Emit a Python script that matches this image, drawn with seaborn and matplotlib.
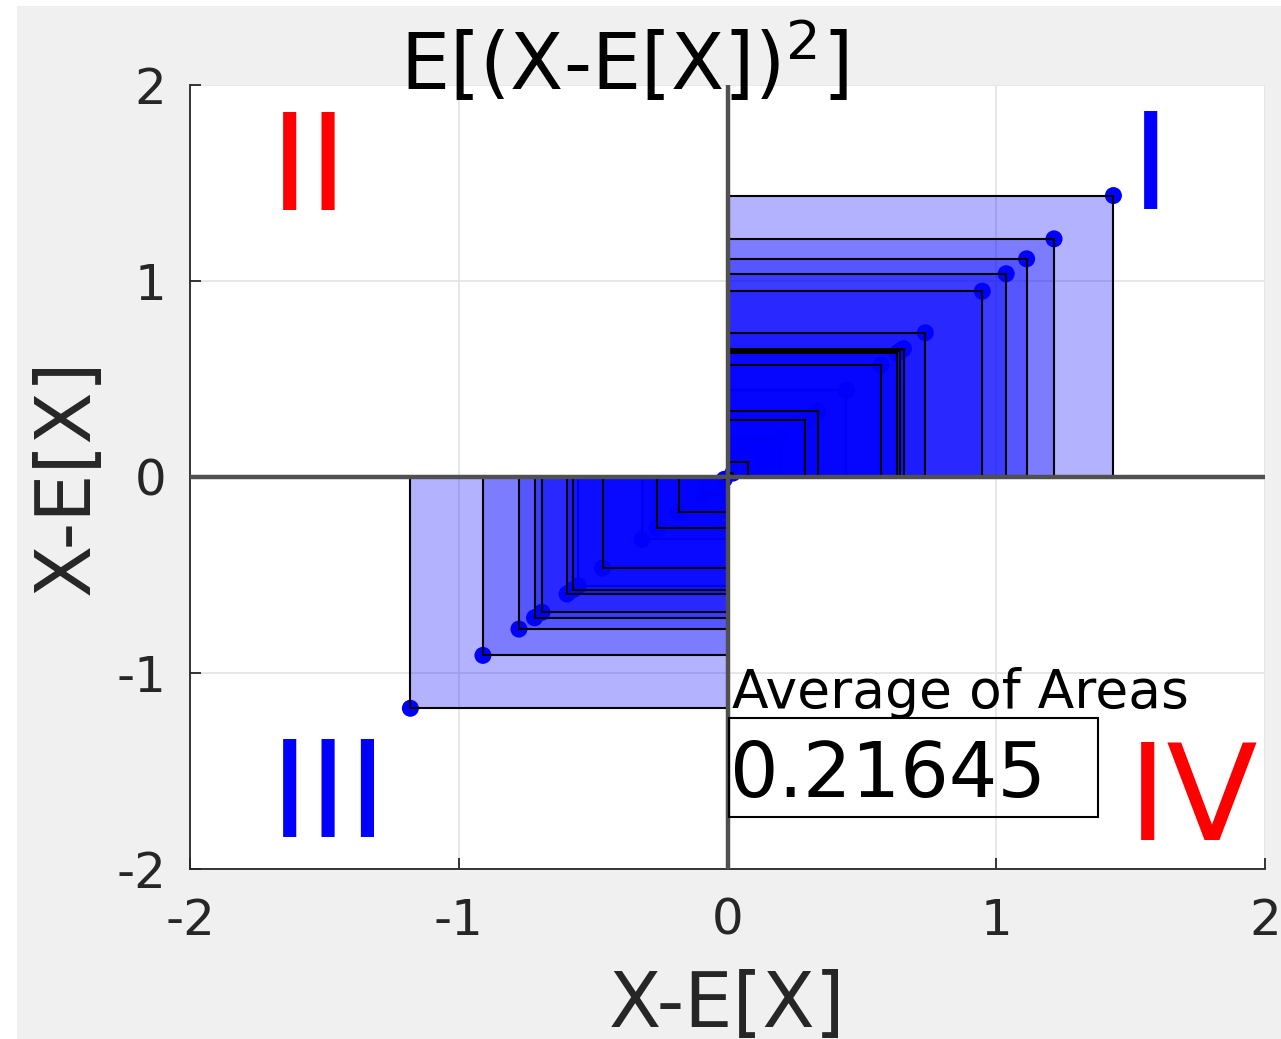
import matplotlib
matplotlib.use("Agg")
import matplotlib.pyplot as plt
from matplotlib.patches import Rectangle
import seaborn as sns
import pandas as pd

# Deviations from the mean (X - E[X]) in the order they are drawn
deviations = [
    0.442, 0.200, 0.118, -0.090, -0.318, -0.555,
    1.436, -1.180, 1.215, 1.113, 1.037, 0.948, -0.910, -0.776,
    0.736, -0.718, -0.690, 0.655, 0.643, 0.632, -0.597, -0.575,
    0.570, -0.465, 0.335, 0.290, -0.262, -0.181, 0.076, 0.020, -0.012,
]
average_of_areas = "0.21645"

tick_values = [-2, -1, 0, 1, 2]
tick_labels = ["-2", "-1", "0", "1", "2"]

quadrant_names = ["I", "II", "III", "IV"]
quadrant_colors = ["#0000ff", "#ff0000", "#0000ff", "#ff0000"]
quadrant_anchors = [(1.50, 1.367), (-1.704, 1.362), (-1.704, -1.837), (1.488, -1.852)]

sns.set_theme(style="white")
plt.rcParams["font.family"] = ["DejaVu Sans"]
plt.rcParams["mathtext.fontset"] = "dejavusans"

W, H = 1281, 1039
fig = plt.figure(figsize=(W / 100, H / 100), dpi=100, facecolor="white")
fig.patches.append(Rectangle((17 / W, 0), 1 - 17 / W, 1 - 6 / H,
                             transform=fig.transFigure, facecolor="#f0f0f0",
                             edgecolor="none", zorder=-10))

ax = fig.add_axes([190 / W, 1 - 869 / H, (1265 - 190) / W, (869 - 85) / H])
ax.set_facecolor("white")
ax.set_xlim(-2, 2)
ax.set_ylim(-2, 2)

# Sample points (x - E[x], x - E[x]) sit under the translucent squares
df = pd.DataFrame({"dx": deviations, "dy": deviations})
sns.scatterplot(data=df, x="dx", y="dy", ax=ax, color="#0000ff", s=150,
                edgecolor="none", linewidth=0, zorder=1.5, legend=False)

# Square of each deviation: area (x - E[x])^2
for d in deviations:
    ax.add_patch(Rectangle((0, 0), d, d, facecolor=(0, 0, 1, 0.3),
                           edgecolor="black", linewidth=1.5, zorder=2))

# Coordinate axes through the mean
ax.axhline(0, color="#505050", lw=3.2, zorder=3)
ax.axvline(0, color="#505050", lw=3.2, zorder=3)

ax.set_xticks(tick_values)
ax.set_xticklabels(tick_labels)
ax.set_yticks(tick_values)
ax.set_yticklabels(tick_labels)
ax.grid(True, color="#e3e3e3", lw=1.2)
ax.set_axisbelow(True)
for side in ["top", "right"]:
    ax.spines[side].set_visible(False)
for side in ["left", "bottom"]:
    ax.spines[side].set_color("#262626")
    ax.spines[side].set_linewidth(1.3)
ax.tick_params(axis="both", direction="in", length=8, width=1.3,
               colors="#262626", labelsize=36)
ax.tick_params(axis="x", pad=20)
ax.tick_params(axis="y", pad=17)
ax.tick_params(left=True, bottom=True)

ax.set_xlabel("X-E[X]", fontsize=55, color="#262626")
ax.set_ylabel("X-E[X]", fontsize=55, color="#262626")
ax.xaxis.set_label_coords(0.5, -0.127)
ax.yaxis.set_label_coords(-0.0795, 0.5)

fig.text(400 / W, 1 - 90 / H, r"E[(X-E[X])$^{2}$]", fontsize=56,
         color="black", ha="left", va="baseline", zorder=5)

for name, color, (qx, qy) in zip(quadrant_names, quadrant_colors, quadrant_anchors):
    ax.text(qx, qy, name, color=color, fontsize=96, ha="left", va="baseline",
            zorder=5)

ax.text(0.0186, -1.179, "Average of Areas", fontsize=38.5, color="black",
        ha="left", va="baseline", zorder=5)
ax.add_patch(Rectangle((0.0074, -1.735), 1.3726, 0.5054, facecolor="none",
                       edgecolor="black", linewidth=1.5, zorder=5))
ax.text(0.011, -1.633, average_of_areas, fontsize=55, color="black",
        ha="left", va="baseline", zorder=5)

fig.savefig("out.png", dpi=100, facecolor=fig.get_facecolor())
